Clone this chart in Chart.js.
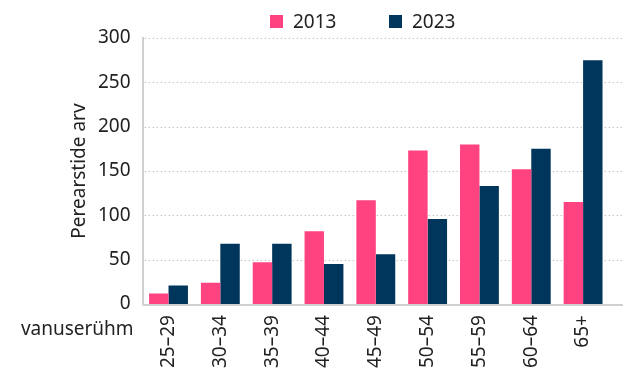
<!DOCTYPE html>
<html lang="et">
<head>
<meta charset="UTF-8">
<title>Perearstide arv vanuserühmiti</title>
<script src="https://cdn.jsdelivr.net/npm/chart.js"></script>
<style>
  html, body { margin: 0; padding: 0; background: #fff; }
  .wrap { position: relative; width: 623px; height: 386px; }
  .legend-item {
    position: absolute;
    top: 8px;
    font: 19px "Noto Sans", sans-serif;
    color: #222;
    display: flex;
    align-items: center;
  }
  .legend-item span.box {
    display: inline-block;
    width: 13px;
    height: 13px;
    margin-right: 10px;
  }
</style>
</head>
<body>
<div class="wrap">
  <div class="legend-item" style="left:270px"><span class="box" style="background:#ff4380"></span>2013</div>
  <div class="legend-item" style="left:389px"><span class="box" style="background:#00365b"></span>2023</div>
  <canvas id="chart" width="623" height="386"></canvas>
</div>

<script>
// data
const ageGroups = ['25–29', '30–34', '35–39', '40–44', '45–49', '50–54', '55–59', '60–64', '65+'];
const values2013 = [12, 24, 47, 82, 117, 173, 180, 152, 115];
const values2023 = [21, 68, 68, 45, 56, 96, 133, 175, 275];
const yMax = 300;
const yStep = 50;

const pink = '#ff4380';
const navy = '#00365b';
const font = { family: '"Noto Sans", sans-serif', size: 19 };

// dotted grid lines running to the right edge, baseline, axis titles
const extras = {
    id: 'extras',
    beforeDatasetsDraw(chart) {
        const { ctx, chartArea, scales: { y } } = chart;
        ctx.save();
        ctx.strokeStyle = '#c4c4c4';
        ctx.lineWidth = 1;
        ctx.setLineDash([1.5, 2.5]);
        y.ticks.forEach(t => {
            if (t.value === 0) return;
            const py = Math.round(y.getPixelForValue(t.value)) + 0.5;
            ctx.beginPath();
            ctx.moveTo(chartArea.left + 2, py);
            ctx.lineTo(chart.width, py);
            ctx.stroke();
        });
        ctx.restore();
    },
    afterDatasetsDraw(chart) {
        const { ctx, chartArea } = chart;
        ctx.save();
        ctx.strokeStyle = '#d0d0d0';
        ctx.lineWidth = 2;
        ctx.beginPath();
        ctx.moveTo(chartArea.left, chartArea.bottom + 1);
        ctx.lineTo(chart.width, chartArea.bottom + 1);
        ctx.stroke();

        ctx.fillStyle = '#222';
        ctx.font = '19px "Noto Sans", sans-serif';
        ctx.textAlign = 'right';
        ctx.textBaseline = 'middle';
        ctx.fillText('vanuserühm', chartArea.left - 9, chartArea.bottom + 26);

        // y title
        ctx.translate(80, (chartArea.top + chartArea.bottom) / 2);
        ctx.rotate(-Math.PI / 2);
        ctx.textAlign = 'center';
        ctx.fillText('Perearstide arv', 0, 0);
        ctx.restore();
    }
};

new Chart(document.getElementById('chart'), {
    type: 'bar',
    data: {
        labels: ageGroups,
        datasets: [
            { label: '2013', data: values2013, backgroundColor: pink },
            { label: '2023', data: values2023, backgroundColor: navy }
        ]
    },
    options: {
        responsive: false,
        animation: false,
        devicePixelRatio: 1,
        categoryPercentage: 0.75,
        barPercentage: 1,
        layout: { padding: { left: 86, right: 14, top: 38, bottom: 7 } },
        plugins: {
            legend: { display: false },
            tooltip: { enabled: false }
        },
        scales: {
            x: {
                grid: { display: false, drawTicks: false },
                border: { display: false },
                ticks: {
                    color: '#222',
                    font: font,
                    padding: 11,
                    minRotation: 90,
                    maxRotation: 90,
                    autoSkip: false
                }
            },
            y: {
                min: 0,
                max: yMax,
                grid: { display: false, drawTicks: false },
                border: { display: true, color: '#d0d0d0', width: 2 },
                ticks: { stepSize: yStep, color: '#222', font: font, padding: 12 }
            }
        }
    },
    plugins: [extras]
});
</script>
</body>
</html>
